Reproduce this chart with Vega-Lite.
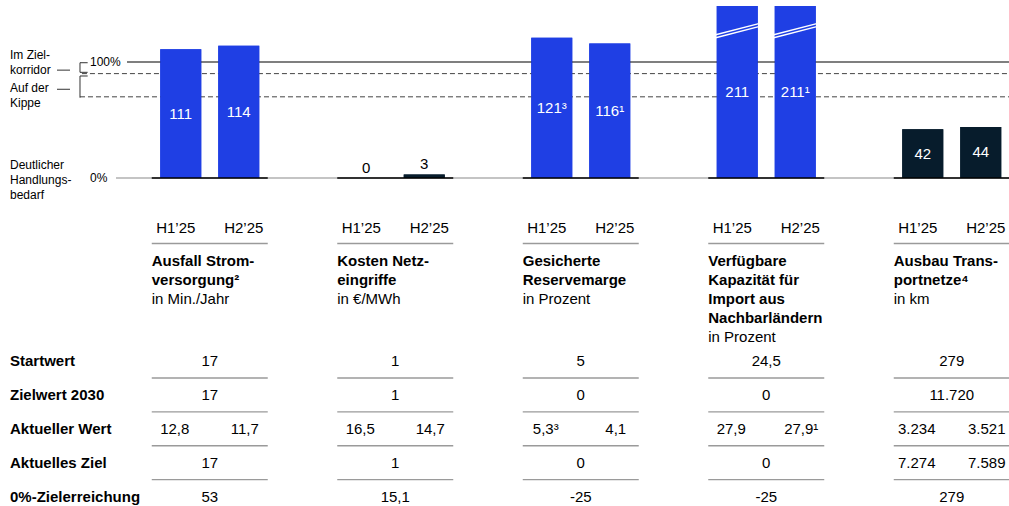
{
  "$schema": "https://vega.github.io/schema/vega-lite/v6.json",
  "width": 1009,
  "height": 506,
  "padding": 0,
  "autosize": {"type": "none"},
  "background": "#ffffff",
  "config": {
    "view": {"stroke": null},
    "font": "Liberation Sans",
    "axis": {"disable": true},
    "legend": {"disable": true},
    "text": {"font": "Liberation Sans", "fontSize": 15, "color": "#000000"}
  },
  "datasets": {
    "groups": [
      {"group": "Ausfall", "title": ["Ausfall Strom-", "versorgung²"], "unit": "in Min./Jahr"},
      {"group": "Kosten", "title": ["Kosten Netz-", "eingriffe"], "unit": "in €/MWh"},
      {"group": "Reserve", "title": ["Gesicherte", "Reservemarge"], "unit": "in Prozent"},
      {"group": "Import", "title": ["Verfügbare", "Kapazität für", "Import aus", "Nachbarländern"], "unit": "in Prozent"},
      {"group": "Ausbau", "title": ["Ausbau Trans-", "portnetze⁴"], "unit": "in km"}
    ],
    "bars": [
      {"group": "Ausfall", "period": "H1’25", "value": 111, "label": "111"},
      {"group": "Ausfall", "period": "H2’25", "value": 114, "label": "114"},
      {"group": "Kosten", "period": "H1’25", "value": 0, "label": "0"},
      {"group": "Kosten", "period": "H2’25", "value": 3, "label": "3"},
      {"group": "Reserve", "period": "H1’25", "value": 121, "label": "121³"},
      {"group": "Reserve", "period": "H2’25", "value": 116, "label": "116¹"},
      {"group": "Import", "period": "H1’25", "value": 211, "label": "211"},
      {"group": "Import", "period": "H2’25", "value": 211, "label": "211¹"},
      {"group": "Ausbau", "period": "H1’25", "value": 42, "label": "42"},
      {"group": "Ausbau", "period": "H2’25", "value": 44, "label": "44"}
    ],
    "zones": [
      {"lines": ["Im Ziel-", "korridor"], "threshold": 100},
      {"lines": ["Auf der", "Kippe"], "threshold": 70},
      {"lines": ["Deutlicher", "Handlungs-", "bedarf"], "threshold": 0}
    ],
    "ticks": [
      {"label": "100%", "v": 100},
      {"label": "0%", "v": 0}
    ],
    "table": [
      {"row": "Startwert", "group": "Ausfall", "period": null, "text": "17"},
      {"row": "Startwert", "group": "Kosten", "period": null, "text": "1"},
      {"row": "Startwert", "group": "Reserve", "period": null, "text": "5"},
      {"row": "Startwert", "group": "Import", "period": null, "text": "24,5"},
      {"row": "Startwert", "group": "Ausbau", "period": null, "text": "279"},
      {"row": "Zielwert 2030", "group": "Ausfall", "period": null, "text": "17"},
      {"row": "Zielwert 2030", "group": "Kosten", "period": null, "text": "1"},
      {"row": "Zielwert 2030", "group": "Reserve", "period": null, "text": "0"},
      {"row": "Zielwert 2030", "group": "Import", "period": null, "text": "0"},
      {"row": "Zielwert 2030", "group": "Ausbau", "period": null, "text": "11.720"},
      {"row": "Aktueller Wert", "group": "Ausfall", "period": "H1’25", "text": "12,8"},
      {"row": "Aktueller Wert", "group": "Ausfall", "period": "H2’25", "text": "11,7"},
      {"row": "Aktueller Wert", "group": "Kosten", "period": "H1’25", "text": "16,5"},
      {"row": "Aktueller Wert", "group": "Kosten", "period": "H2’25", "text": "14,7"},
      {"row": "Aktueller Wert", "group": "Reserve", "period": "H1’25", "text": "5,3³"},
      {"row": "Aktueller Wert", "group": "Reserve", "period": "H2’25", "text": "4,1"},
      {"row": "Aktueller Wert", "group": "Import", "period": "H1’25", "text": "27,9"},
      {"row": "Aktueller Wert", "group": "Import", "period": "H2’25", "text": "27,9¹"},
      {"row": "Aktueller Wert", "group": "Ausbau", "period": "H1’25", "text": "3.234"},
      {"row": "Aktueller Wert", "group": "Ausbau", "period": "H2’25", "text": "3.521"},
      {"row": "Aktuelles Ziel", "group": "Ausfall", "period": null, "text": "17"},
      {"row": "Aktuelles Ziel", "group": "Kosten", "period": null, "text": "1"},
      {"row": "Aktuelles Ziel", "group": "Reserve", "period": null, "text": "0"},
      {"row": "Aktuelles Ziel", "group": "Import", "period": null, "text": "0"},
      {"row": "Aktuelles Ziel", "group": "Ausbau", "period": "H1’25", "text": "7.274"},
      {"row": "Aktuelles Ziel", "group": "Ausbau", "period": "H2’25", "text": "7.589"},
      {"row": "0%-Zielerreichung", "group": "Ausfall", "period": null, "text": "53"},
      {"row": "0%-Zielerreichung", "group": "Kosten", "period": null, "text": "15,1"},
      {"row": "0%-Zielerreichung", "group": "Reserve", "period": null, "text": "-25"},
      {"row": "0%-Zielerreichung", "group": "Import", "period": null, "text": "-25"},
      {"row": "0%-Zielerreichung", "group": "Ausbau", "period": null, "text": "279"}
    ]
  },
  "layer": [
    {
      "layer": [
        {
          "data": {"name": "bars"},
          "mark": {"type": "bar"},
          "encoding": {
            "x": {"field": "group", "type": "nominal", "scale": {"domain": ["Kennzahl", "Ausfall", "Kosten", "Reserve", "Import", "Ausbau"], "range": [-68.5, 1044.5], "paddingInner": 0, "paddingOuter": 0}},
            "xOffset": {"field": "period", "type": "nominal", "scale": {"domain": ["H1’25", "H2’25"], "paddingInner": 0.2931, "paddingOuter": 0.7457}},
            "y": {"field": "value", "type": "quantitative", "scale": {"domain": [0, 148.3], "range": [178, 6], "clamp": true, "nice": false, "zero": true}},
            "color": {"field": "group", "type": "nominal", "scale": {"domain": ["Ausfall", "Kosten", "Reserve", "Import", "Ausbau"], "range": ["#1f3fe4", "#071c2c", "#1f3fe4", "#1f3fe4", "#071c2c"]}}
          }
        },
        {
          "data": {"values": [{}]},
          "mark": {"type": "rule", "color": "#8a8a8a", "strokeWidth": 1.2},
          "encoding": {
            "x": {"datum": "Kennzahl", "type": "nominal", "bandPosition": 0.9946},
            "x2": {"value": "width"},
            "y": {"datum": 0, "type": "quantitative"}
          }
        },
        {
          "data": {"values": [{}]},
          "mark": {"type": "rule", "color": "#000000", "strokeWidth": 1.2},
          "encoding": {
            "x": {"datum": "Ausfall", "type": "nominal", "bandPosition": 0.054},
            "x2": {"value": "width"},
            "y": {"datum": 100, "type": "quantitative"}
          }
        },
        {
          "data": {"values": [{}]},
          "mark": {"type": "rule", "color": "#444444", "strokeWidth": 1, "strokeDash": [5, 3]},
          "encoding": {
            "x": {"datum": "Kennzahl", "type": "nominal", "bandPosition": 0.811},
            "x2": {"value": "width"},
            "y": {"datum": 90, "type": "quantitative"}
          }
        },
        {
          "data": {"values": [{}]},
          "mark": {"type": "rule", "color": "#444444", "strokeWidth": 1, "strokeDash": [5, 3]},
          "encoding": {
            "x": {"datum": "Kennzahl", "type": "nominal", "bandPosition": 0.8005},
            "x2": {"value": "width"},
            "y": {"datum": 70, "type": "quantitative"}
          }
        },
        {
          "data": {"name": "bars"},
          "mark": {"type": "bar"},
          "encoding": {
            "x": {"field": "group", "type": "nominal"},
            "xOffset": {"field": "period", "type": "nominal"},
            "y": {"field": "value", "type": "quantitative"},
            "color": {"field": "group", "type": "nominal"}
          }
        },
        {
          "data": {"name": "bars"},
          "transform": [{"filter": "datum.value > 148.3"}],
          "mark": {"type": "point", "shape": "M-1,0.19L1,-0.33M-1,0.33L1,-0.19", "size": 1849, "filled": false, "stroke": "#ffffff", "strokeWidth": 1.4, "opacity": 1},
          "encoding": {
            "x": {"field": "group", "type": "nominal"},
            "xOffset": {"field": "period", "type": "nominal"},
            "y": {"datum": 127, "type": "quantitative"}
          }
        },
        {
          "data": {"name": "bars"},
          "transform": [{"filter": "datum.group !== 'Kosten'"}, {"calculate": "min(datum.value, 148.3) / 2", "as": "mid"}],
          "mark": {"type": "text", "color": "#ffffff", "baseline": "middle", "fontSize": 15},
          "encoding": {
            "x": {"field": "group", "type": "nominal"},
            "xOffset": {"field": "period", "type": "nominal"},
            "y": {"field": "mid", "type": "quantitative"},
            "text": {"field": "label"}
          }
        },
        {
          "data": {"name": "bars"},
          "transform": [{"filter": "datum.group === 'Kosten'"}],
          "mark": {"type": "text", "color": "#000000", "baseline": "alphabetic", "dy": -5.5, "fontSize": 15},
          "encoding": {
            "x": {"field": "group", "type": "nominal"},
            "xOffset": {"field": "period", "type": "nominal"},
            "y": {"field": "value", "type": "quantitative"},
            "text": {"field": "label"}
          }
        },
        {
          "data": {"name": "groups"},
          "mark": {"type": "tick", "orient": "horizontal", "size": 116, "thickness": 1.5, "color": "#000000", "opacity": 1},
          "encoding": {
            "x": {"field": "group", "type": "nominal"},
            "y": {"datum": 0, "type": "quantitative"}
          }
        },
        {
          "data": {"name": "ticks"},
          "mark": {"type": "text", "align": "left", "baseline": "middle", "fontSize": 12},
          "encoding": {
            "x": {"datum": "Kennzahl", "type": "nominal", "bandPosition": 0.8544},
            "y": {"field": "v", "type": "quantitative"},
            "text": {"field": "label"}
          }
        },
        {
          "data": {"name": "zones"},
          "transform": [{"filter": "datum.threshold === 100"}],
          "mark": {"type": "text", "align": "left", "baseline": "middle", "fontSize": 12, "lineHeight": 15, "dy": -7},
          "encoding": {
            "x": {"datum": "Kennzahl", "type": "nominal", "bandPosition": 0.4232},
            "y": {"field": "threshold", "type": "quantitative"},
            "text": {"field": "lines"}
          }
        },
        {
          "data": {"name": "zones"},
          "transform": [{"filter": "datum.threshold === 70"}],
          "mark": {"type": "text", "align": "left", "baseline": "middle", "fontSize": 12, "lineHeight": 15, "dy": -8.5},
          "encoding": {
            "x": {"datum": "Kennzahl", "type": "nominal", "bandPosition": 0.4232},
            "y": {"field": "threshold", "type": "quantitative"},
            "text": {"field": "lines"}
          }
        },
        {
          "data": {"name": "zones"},
          "transform": [{"filter": "datum.threshold === 0"}],
          "mark": {"type": "text", "align": "left", "baseline": "middle", "fontSize": 12, "lineHeight": 15, "dy": -13},
          "encoding": {
            "x": {"datum": "Kennzahl", "type": "nominal", "bandPosition": 0.4232},
            "y": {"field": "threshold", "type": "quantitative"},
            "text": {"field": "lines"}
          }
        },
        {
          "data": {"values": [{}]},
          "mark": {"type": "point", "shape": "M1.6,-1H0V1H1.6", "size": 92, "filled": false, "stroke": "#333333", "strokeWidth": 1, "opacity": 1},
          "encoding": {
            "x": {"datum": "Kennzahl", "type": "nominal", "bandPosition": 0.8005},
            "y": {"datum": 95.25, "type": "quantitative"}
          }
        },
        {
          "data": {"values": [{}]},
          "mark": {"type": "point", "shape": "M0.71,-1H0V1", "size": 471, "filled": false, "stroke": "#333333", "strokeWidth": 1, "opacity": 1},
          "encoding": {
            "x": {"datum": "Kennzahl", "type": "nominal", "bandPosition": 0.8005},
            "y": {"datum": 78.6, "type": "quantitative"}
          }
        },
        {
          "data": {"values": [{}]},
          "mark": {"type": "point", "shape": "M-1,0H1", "size": 169, "filled": false, "stroke": "#333333", "strokeWidth": 1, "opacity": 1},
          "encoding": {
            "x": {"datum": "Kennzahl", "type": "nominal", "bandPosition": 0.7116},
            "y": {"datum": 93, "type": "quantitative"}
          }
        },
        {
          "data": {"values": [{}]},
          "mark": {"type": "point", "shape": "M-1,0H1", "size": 169, "filled": false, "stroke": "#333333", "strokeWidth": 1, "opacity": 1},
          "encoding": {
            "x": {"datum": "Kennzahl", "type": "nominal", "bandPosition": 0.7116},
            "y": {"datum": 76.5, "type": "quantitative"}
          }
        }
      ]
    },
    {
      "layer": [
        {
          "data": {"name": "bars"},
          "transform": [{"filter": "datum.period === 'H1’25'"}],
          "mark": {"type": "text", "baseline": "middle", "fontSize": 15, "dx": -5},
          "encoding": {
            "x": {"field": "group", "type": "nominal"},
            "xOffset": {"field": "period", "type": "nominal"},
            "y": {"datum": "Zeitraum", "type": "nominal", "scale": {"type": "point", "domain": ["Zeitraum"], "range": [227.5, 227.5], "padding": 0}},
            "text": {"field": "period"}
          }
        },
        {
          "data": {"name": "bars"},
          "transform": [{"filter": "datum.period === 'H2’25'"}],
          "mark": {"type": "text", "baseline": "middle", "fontSize": 15, "dx": 5},
          "encoding": {
            "x": {"field": "group", "type": "nominal"},
            "xOffset": {"field": "period", "type": "nominal"},
            "y": {"datum": "Zeitraum", "type": "nominal"},
            "text": {"field": "period"}
          }
        },
        {
          "data": {"name": "groups"},
          "mark": {"type": "tick", "orient": "horizontal", "size": 116, "thickness": 1.3, "color": "#9a9a9a", "opacity": 1, "yOffset": 16},
          "encoding": {
            "x": {"field": "group", "type": "nominal"},
            "y": {"datum": "Zeitraum", "type": "nominal"}
          }
        }
      ]
    },
    {
      "layer": [
        {
          "data": {"name": "groups"},
          "mark": {"type": "text", "align": "left", "baseline": "top", "fontWeight": "bold", "fontSize": 15, "lineHeight": 19},
          "encoding": {
            "x": {"field": "group", "type": "nominal", "bandPosition": 0.1873},
            "y": {"datum": 0, "type": "quantitative", "scale": {"domain": [0, 5], "range": [254, 349], "nice": false, "zero": false}},
            "text": {"field": "title"}
          }
        },
        {
          "data": {"name": "groups"},
          "transform": [{"calculate": "length(datum.title)", "as": "titleLines"}],
          "mark": {"type": "text", "align": "left", "baseline": "top", "fontSize": 15},
          "encoding": {
            "x": {"field": "group", "type": "nominal", "bandPosition": 0.1873},
            "y": {"field": "titleLines", "type": "quantitative"},
            "text": {"field": "unit"}
          }
        }
      ]
    },
    {
      "layer": [
        {
          "data": {"name": "table"},
          "transform": [{"aggregate": [{"op": "count", "as": "n"}], "groupby": ["row"]}],
          "mark": {"type": "text", "align": "left", "baseline": "middle", "fontWeight": "bold", "fontSize": 15},
          "encoding": {
            "x": {"datum": "Kennzahl", "type": "nominal", "bandPosition": 0.4232},
            "y": {"field": "row", "type": "nominal", "scale": {"type": "point", "domain": ["Startwert", "Zielwert 2030", "Aktueller Wert", "Aktuelles Ziel", "0%-Zielerreichung"], "range": [361, 496.5], "padding": 0}},
            "text": {"field": "row"}
          }
        },
        {
          "data": {"name": "table"},
          "transform": [{"filter": "!datum.period"}],
          "mark": {"type": "text", "baseline": "middle", "fontSize": 15},
          "encoding": {
            "x": {"field": "group", "type": "nominal"},
            "y": {"field": "row", "type": "nominal"},
            "text": {"field": "text"}
          }
        },
        {
          "data": {"name": "table"},
          "transform": [{"filter": "datum.period === 'H1’25'"}],
          "mark": {"type": "text", "baseline": "middle", "fontSize": 15, "dx": -6},
          "encoding": {
            "x": {"field": "group", "type": "nominal"},
            "xOffset": {"field": "period", "type": "nominal"},
            "y": {"field": "row", "type": "nominal"},
            "text": {"field": "text"}
          }
        },
        {
          "data": {"name": "table"},
          "transform": [{"filter": "datum.period === 'H2’25'"}],
          "mark": {"type": "text", "baseline": "middle", "fontSize": 15, "dx": 6},
          "encoding": {
            "x": {"field": "group", "type": "nominal"},
            "xOffset": {"field": "period", "type": "nominal"},
            "y": {"field": "row", "type": "nominal"},
            "text": {"field": "text"}
          }
        },
        {
          "data": {"name": "table"},
          "transform": [{"filter": "datum.row !== '0%-Zielerreichung'"}, {"aggregate": [{"op": "count", "as": "n"}], "groupby": ["group", "row"]}],
          "mark": {"type": "tick", "orient": "horizontal", "size": 116, "thickness": 1.3, "color": "#9a9a9a", "opacity": 1, "yOffset": 17},
          "encoding": {
            "x": {"field": "group", "type": "nominal"},
            "y": {"field": "row", "type": "nominal"}
          }
        }
      ]
    }
  ],
  "resolve": {"scale": {"y": "independent"}}
}
